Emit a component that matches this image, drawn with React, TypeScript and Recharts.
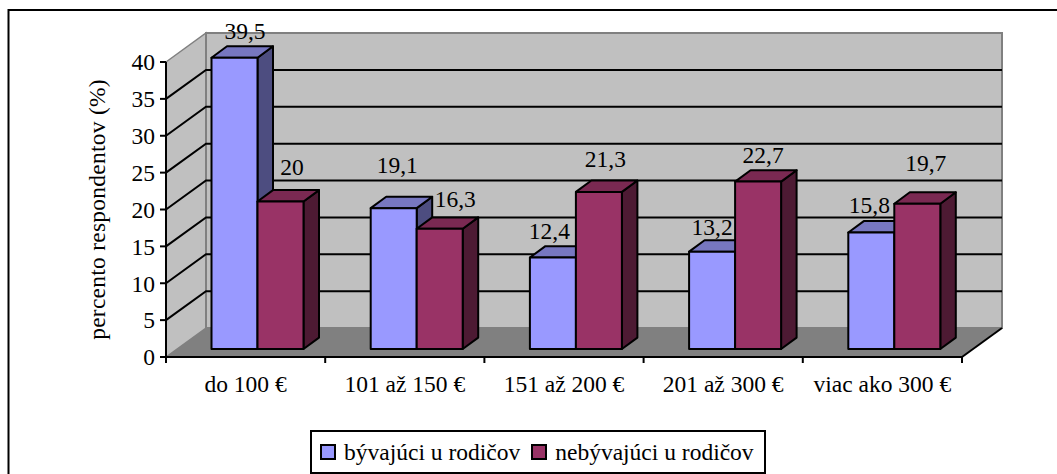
import React from "react";
import {
  BarChart,
  Bar,
  XAxis,
  YAxis,
  CartesianGrid,
  Legend,
  LabelList,
  usePlotArea,
} from "recharts";

const categories = ["do 100 €", "101 až 150 €", "151 až 200 €", "201 až 300 €", "viac ako 300 €"];
const livingWithParents = [39.5, 19.1, 12.4, 13.2, 15.8];
const notLivingWithParents = [20, 16.3, 21.3, 22.7, 19.7];
const yTicks = [0, 5, 10, 15, 20, 25, 30, 35, 40];
const seriesNames = ["bývajúci u rodičov", "nebývajúci u rodičov"];
const yTitle = "percento respondentov (%)";

const rows = categories.map((category, i) => ({
  category,
  a: livingWithParents[i],
  b: notLivingWithParents[i],
}));

// Hand-placed label shifts, as in the source chart (from the top centre of each bar's raw slot)
const labelShiftA = [[22, -35], [15, -51], [8, -35], [11.5, -33], [9.6, -35.6]];
const labelShiftB = [[23, -43], [27, -38], [18, -41], [16.5, -35], [20, -49]];

const FONT = "'Liberation Serif', 'Times New Roman', serif";
const FONT_SIZE = 23.5;
const WALL_DX = 40;
const WALL_DY = 29;
const BAR_DX = 11.5;
const BAR_DY = 8;
const DEPTH_DX = 15.5;
const DEPTH_DY = 11.4;
const WALL = "#C0C0C0";
const FLOOR = "#808080";

const shades: Record<string, { top: string; side: string }> = {
  "#9999FF": { top: "#7777C0", side: "#4D4D80" },
  "#993366": { top: "#7A2952", side: "#4D1A33" },
};

function Walls() {
  const p = usePlotArea();
  if (!p) return null;
  const l = p.x, r = p.x + p.width, t = p.y, b = p.y + p.height;
  const pts = (a: number[][]) => a.map((q) => q.join(",")).join(" ");
  return (
    <g>
      <line x1={8.5} y1={10} x2={1057} y2={10} stroke="#000" strokeWidth={2} />
      <line x1={8.5} y1={9} x2={8.5} y2={474} stroke="#000" strokeWidth={2} />
      <polygon
        points={pts([[l, t], [l + WALL_DX, t - WALL_DY], [l + WALL_DX, b - WALL_DY], [l, b]])}
        fill={WALL}
        stroke={FLOOR}
        strokeWidth={1.5}
      />
      <polygon
        points={pts([[l + WALL_DX, t - WALL_DY], [r + WALL_DX, t - WALL_DY], [r + WALL_DX, b - WALL_DY], [l + WALL_DX, b - WALL_DY]])}
        fill={WALL}
        stroke={FLOOR}
        strokeWidth={2}
      />
      <polygon
        points={pts([[l, b], [l + WALL_DX, b - WALL_DY], [r + WALL_DX, b - WALL_DY], [r, b]])}
        fill={FLOOR}
      />
      <line x1={r} y1={b} x2={r + WALL_DX} y2={b - WALL_DY} stroke="#000" strokeWidth={2} />
    </g>
  );
}

function gridLine(props: any) {
  const { x1, x2, y1, index } = props;
  if (index === 0 || index === yTicks.length - 1) return <g key={props.key} />;
  return (
    <polyline
      key={props.key}
      points={`${x1},${y1} ${x1 + WALL_DX},${y1 - WALL_DY} ${x2 + WALL_DX},${y1 - WALL_DY}`}
      fill="none"
      stroke="#000"
      strokeWidth={2}
    />
  );
}

function Bar3D(props: any) {
  const { x, y, width, height, fill } = props;
  const s = shades[fill];
  const fx = x + BAR_DX;
  const fy = y - BAR_DY;
  const bottom = fy + height;
  const right = fx + width;
  const stroke = { stroke: "#000", strokeWidth: 2, strokeLinejoin: "round" as const };
  return (
    <g>
      <polygon
        points={`${right},${fy} ${right + DEPTH_DX},${fy - DEPTH_DY} ${right + DEPTH_DX},${bottom - DEPTH_DY} ${right},${bottom}`}
        fill={s.side}
        {...stroke}
      />
      <polygon
        points={`${fx},${fy} ${fx + DEPTH_DX},${fy - DEPTH_DY} ${right + DEPTH_DX},${fy - DEPTH_DY} ${right},${fy}`}
        fill={s.top}
        {...stroke}
      />
      <rect x={fx} y={fy} width={width} height={height} fill={fill} {...stroke} />
    </g>
  );
}

const makeLabel = (shifts: number[][]) => (props: any) => {
  const { x, y, width, value, index } = props;
  const [dx, dy] = shifts[index];
  return (
    <text
      x={x + width / 2 + dx}
      y={y + dy}
      textAnchor="middle"
      dominantBaseline="central"
      fontFamily={FONT}
      fontSize={FONT_SIZE}
      fill="#000"
    >
      {String(value).replace(".", ",")}
    </text>
  );
};

function CategoryTick(props: any) {
  const { x, y, payload, index } = props;
  const half = 796 / categories.length / 2;
  return (
    <g>
      <line x1={x - half} y1={y - 8} x2={x - half} y2={y - 2} stroke="#000" strokeWidth={2} />
      {index === categories.length - 1 && (
        <line x1={x + half} y1={y - 8} x2={x + half} y2={y - 2} stroke="#000" strokeWidth={2} />
      )}
      <text
        x={x}
        y={y + 19}
        textAnchor="middle"
        dominantBaseline="central"
        fontFamily={FONT}
        fontSize={FONT_SIZE}
        fill="#000"
      >
        {payload.value}
      </text>
    </g>
  );
}

function LegendBox(props: any) {
  const items = props.payload || [];
  return (
    <div
      style={{
        boxSizing: "border-box",
        width: 456,
        height: 44,
        border: "2px solid #000",
        background: "#fff",
        display: "flex",
        alignItems: "center",
        paddingLeft: 8,
        fontFamily: FONT,
        fontSize: FONT_SIZE,
        color: "#000",
        whiteSpace: "nowrap",
      }}
    >
      {items.map((it: any, i: number) => (
        <span key={i} style={{ display: "inline-flex", alignItems: "center", marginRight: 11 }}>
          <span
            style={{
              display: "inline-block",
              boxSizing: "border-box",
              width: 16,
              height: 16,
              background: it.color,
              border: "2px solid #000",
              marginRight: 8,
            }}
          />
          {it.value}
        </span>
      ))}
    </div>
  );
}

export default function App() {
  return (
    <div style={{ position: "absolute", left: 0, top: 0, width: 1057, height: 474, background: "#fff" }}>
      <BarChart
        width={1057}
        height={474}
        data={rows}
        margin={{ top: 62, right: 95, bottom: 0, left: 0 }}
        barSize={46}
        barGap={0}
      >
        <Walls />
        <CartesianGrid horizontal={gridLine as any} vertical={false} zIndex={0} />
        <XAxis
          dataKey="category"
          height={117}
          interval={0}
          tickLine={false}
          axisLine={{ stroke: "#000", strokeWidth: 2 }}
          tick={<CategoryTick />}
        />
        <YAxis
          width={166}
          domain={[0, 40]}
          ticks={yTicks}
          interval={0}
          tickSize={6}
          tickMargin={5}
          axisLine={{ stroke: "#000", strokeWidth: 2 }}
          tickLine={{ stroke: "#000", strokeWidth: 2 }}
          tick={{ fontFamily: FONT, fontSize: FONT_SIZE, fill: "#000" }}
          label={{
            value: yTitle,
            angle: -90,
            position: "insideLeft",
            offset: 97,
            textAnchor: "middle",
            dy: 0,
            style: { fontFamily: FONT, fontSize: FONT_SIZE, letterSpacing: 0.25, fill: "#000", textAnchor: "middle" },
          }}
        />
        <Legend
          layout="horizontal"
          verticalAlign="middle"
          wrapperStyle={{ left: 310, top: 430, width: 456, height: 44 }}
          content={<LegendBox />}
        />
        <Bar dataKey="a" name={seriesNames[0]} fill="#9999FF" shape={<Bar3D />} isAnimationActive={false}>
          <LabelList dataKey="a" content={makeLabel(labelShiftA)} />
        </Bar>
        <Bar dataKey="b" name={seriesNames[1]} fill="#993366" shape={<Bar3D />} isAnimationActive={false}>
          <LabelList dataKey="b" content={makeLabel(labelShiftB)} />
        </Bar>
      </BarChart>
    </div>
  );
}
